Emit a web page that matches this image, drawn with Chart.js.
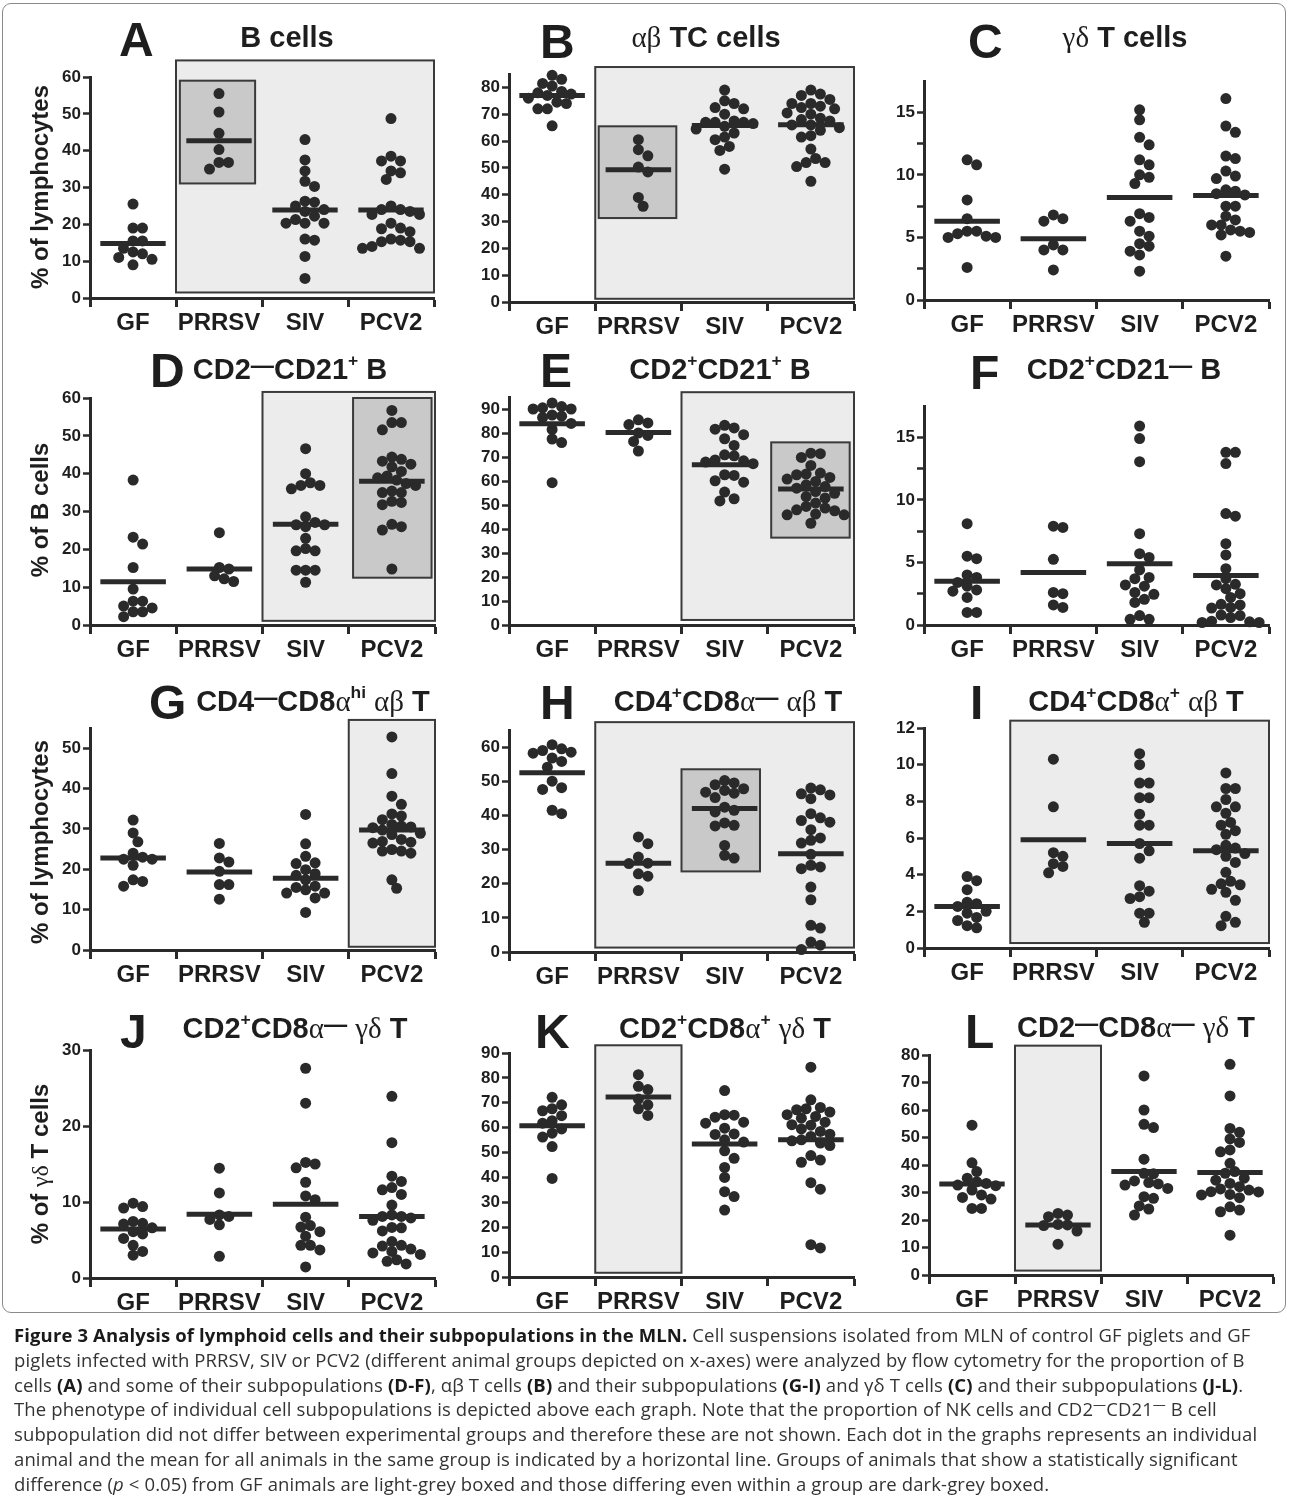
<!DOCTYPE html>
<html>
<head>
<meta charset="utf-8">
<title>Figure 3 - Lymphoid cells in the MLN</title>
<script src="https://cdn.jsdelivr.net/npm/chart.js"></script>
<style>
    body {
        margin: 0;
        background: #fff;
        font-family: "Liberation Sans", Arial, sans-serif;
        color: #1e1e1e;
    }
    #page {
        position: relative;
        width: 1290px;
        height: 1512px;
        overflow: hidden;
    }
    .frame {
        position: absolute;
        left: 2px;
        top: 3px;
        width: 1284px;
        height: 1310px;
        border: 1px solid #8a8a8a;
        border-radius: 9px;
        box-sizing: border-box;
    }
    .chart {
        position: absolute;
    }
    .letter, .title, .ytitle {
        position: absolute;
        font-weight: bold;
        white-space: nowrap;
        line-height: 1;
    }
    .letter {
        font-size: 48px;
        transform: translateY(-50%);
    }
    .title {
        font-size: 29px;
        transform: translate(-50%, -50%);
    }
    .ytitle {
        font-size: 24px;
        transform: translate(-50%, -50%) rotate(-90deg);
    }
    .gr {
        font-family: "Liberation Serif", "DejaVu Serif", serif;
        font-weight: normal;
    }
    .title sup {
        font-size: 60%;
        vertical-align: 0.7em;
    }
    .neg {
        font-size: 80%;
        vertical-align: 0.22em;
    }
    .caption {
        position: absolute;
        left: 14px;
        top: 1323px;
        font-family: "Open Sans", "Noto Sans", sans-serif;
        font-size: 18.5px;
        letter-spacing: 0.12px;
        line-height: 24.8px;
        color: #333;
        white-space: nowrap;
    }
    .caption b {
        color: #1a1a1a;
    }
    .caption sup {
        font-size: 70%;
        line-height: 0;
    }
</style>
</head>
<body>
<div id="page">
    <div class="frame"></div>

    <div class="letter" style="left:119px; top:40px">A</div>
    <div class="title" style="left:287px; top:37px">B cells</div>
    <div class="letter" style="left:540px; top:42px">B</div>
    <div class="title" style="left:706px; top:37px"><span class="gr">αβ</span> TC cells</div>
    <div class="letter" style="left:968px; top:42px">C</div>
    <div class="title" style="left:1125px; top:37px"><span class="gr">γδ</span> T cells</div>

    <div class="letter" style="left:150px; top:371px">D</div>
    <div class="title" style="left:290px; top:368px">CD2<span class="neg">—</span>CD21<sup>+</sup> B</div>
    <div class="letter" style="left:540px; top:371px">E</div>
    <div class="title" style="left:720px; top:368px">CD2<sup>+</sup>CD21<sup>+</sup> B</div>
    <div class="letter" style="left:970px; top:373px">F</div>
    <div class="title" style="left:1124px; top:368px">CD2<sup>+</sup>CD21<span class="neg">—</span> B</div>

    <div class="letter" style="left:149px; top:703px">G</div>
    <div class="title" style="left:313px; top:700px">CD4<span class="neg">—</span>CD8<span class="gr">α</span><sup>hi</sup> <span class="gr">αβ</span> T</div>
    <div class="letter" style="left:540px; top:703px">H</div>
    <div class="title" style="left:728px; top:700px">CD4<sup>+</sup>CD8<span class="gr">α</span><span class="neg">—</span> <span class="gr">αβ</span> T</div>
    <div class="letter" style="left:970px; top:703px">I</div>
    <div class="title" style="left:1136px; top:700px">CD4<sup>+</sup>CD8<span class="gr">α</span><sup>+</sup> <span class="gr">αβ</span> T</div>

    <div class="letter" style="left:120px; top:1032px">J</div>
    <div class="title" style="left:295px; top:1027px">CD2<sup>+</sup>CD8<span class="gr">α</span><span class="neg">—</span> <span class="gr">γδ</span> T</div>
    <div class="letter" style="left:535px; top:1032px">K</div>
    <div class="title" style="left:725px; top:1027px">CD2<sup>+</sup>CD8<span class="gr">α</span><sup>+</sup> <span class="gr">γδ</span> T</div>
    <div class="letter" style="left:965px; top:1032px">L</div>
    <div class="title" style="left:1136px; top:1027px">CD2<span class="neg">—</span>CD8<span class="gr">α</span><span class="neg">—</span> <span class="gr">γδ</span> T</div>

    <div class="ytitle" style="left:40px; top:187px">% of lymphocytes</div>
    <div class="ytitle" style="left:40px; top:510px">% of B cells</div>
    <div class="ytitle" style="left:40px; top:842px">% of lymphocytes</div>
    <div class="ytitle" style="left:40px; top:1164px">% of <span class="gr">γδ</span> T cells</div>

    <div class="caption">
        <div><b>Figure 3 Analysis of lymphoid cells and their subpopulations in the MLN.</b> Cell suspensions isolated from MLN of control GF piglets and GF</div>
        <div>piglets infected with PRRSV, SIV or PCV2 (different animal groups depicted on x-axes) were analyzed by flow cytometry for the proportion of B</div>
        <div>cells <b>(A)</b> and some of their subpopulations <b>(D-F)</b>, αβ T cells <b>(B)</b> and their subpopulations <b>(G-I)</b> and γδ T cells <b>(C)</b> and their subpopulations <b>(J-L)</b>.</div>
        <div>The phenotype of individual cell subpopulations is depicted above each graph. Note that the proportion of NK cells and CD2<sup>—</sup>CD21<sup>—</sup> B cell</div>
        <div>subpopulation did not differ between experimental groups and therefore these are not shown. Each dot in the graphs represents an individual</div>
        <div>animal and the mean for all animals in the same group is indicated by a horizontal line. Groups of animals that show a statistically significant</div>
        <div>difference (<i>p</i> &lt; 0.05) from GF animals are light-grey boxed and those differing even within a group are dark-grey boxed.</div>
    </div>
</div>

<script>
    const groups = ['GF', 'PRRSV', 'SIV', 'PCV2'];

    // values per animal, one list per group (GF, PRRSV, SIV, PCV2), and group means
    const bCells = [
        [25.5, 19, 19, 15.5, 15.5, 13.5, 12.5, 12, 11, 10.5, 9],
        [55.5, 50.5, 44.7, 40.3, 36.8, 36.8, 35],
        [43, 37.5, 34.5, 31.7, 30.3, 26.3, 26, 25, 24, 23.5, 22.2, 21.3, 20.3, 20.3, 20.3, 16, 15.7, 11.3, 5.3],
        [48.7, 38.5, 37.2, 37.2, 34.5, 34, 32.2, 25, 24, 24, 23.5, 22.7, 22.7, 20.3, 19, 18.8, 18, 16, 15.7, 15.3, 15.3, 14, 13.5, 13.5]
    ];
    const bCellsMean = [14.8, 42.7, 23.9, 23.9];

    const abTc = [
        [84.5, 83, 81.5, 80.5, 78.5, 78, 77.5, 77, 76, 74.5, 74, 72, 72, 65.7],
        [60.5, 56.8, 54.5, 50.3, 48.5, 39, 35.7],
        [79, 75, 74, 72.5, 72, 70, 67.5, 67, 67, 67, 66.5, 65.5, 64.5, 63, 61.5, 60.5, 58, 56.5, 49.5],
        [79, 77.5, 77, 75.5, 74, 74, 73, 72.5, 72, 70.5, 70, 68.5, 68, 67.5, 66, 66, 65, 64, 62, 61.5, 57, 53.5, 52, 52, 50.5, 45]
    ];
    const abTcMean = [77, 49.3, 65.8, 66.1];

    const gdT = [
        [11.2, 10.8, 8, 6.5, 5.5, 5.5, 5.3, 5.1, 5, 5, 2.6],
        [6.8, 6.5, 6.3, 4.4, 4, 4, 2.4],
        [15.2, 14.4, 13, 12.4, 11.2, 10.8, 10, 9.8, 9.3, 6.9, 6.6, 6.3, 5.5, 5.1, 4.5, 4.3, 3.9, 3.6, 2.3],
        [16.1, 13.9, 13.4, 11.5, 11.3, 10.3, 9.9, 9.7, 8.8, 8.7, 8.5, 8.4, 7.5, 7.5, 6.7, 6.4, 6, 6, 5.6, 5.5, 5.4, 5.2, 3.5]
    ];
    const gdTMean = [6.3, 4.9, 8.2, 8.35];

    const cd2negCd21pos = [
        [38.3, 23.2, 21.4, 15.2, 9.5, 6.3, 6.3, 5, 4.5, 3.5, 3.5, 2.2],
        [24.4, 15.2, 14.8, 13, 12.2, 11.5],
        [46.6, 40, 37.6, 36.9, 36.9, 36, 28.6, 27.1, 26.5, 26.5, 26, 22.9, 20.2, 19.6, 19.6, 14.5, 14.5, 14.5, 11.3],
        [56.7, 53.5, 53.5, 51.6, 44.4, 43.8, 43.3, 42.5, 41.8, 40.6, 39.4, 38.9, 38.3, 37.4, 36.9, 35.4, 35, 35, 32.7, 32.4, 31.8, 26.6, 26, 25.1, 14.8]
    ];
    const cd2negCd21posMean = [11.4, 14.8, 26.6, 38];

    const cd2posCd21pos = [
        [92.5, 91, 90.5, 90, 90, 87.5, 87, 86.5, 84, 81.5, 77.5, 76, 59.3],
        [85.5, 84.2, 83.5, 80, 79, 76.5, 72.5],
        [83.2, 82.1, 81.6, 79.3, 77.6, 74.8, 70.9, 70.5, 68.8, 68.4, 67.9, 67.2, 62.6, 62.3, 60.1, 59.5, 55.4, 52.6, 51.7],
        [71.6, 71.4, 69.8, 66.5, 63.3, 62.9, 62.6, 61.5, 60.8, 59.8, 58.4, 57.7, 57, 55.6, 54.9, 53.5, 52.9, 50.8, 49.4, 48.7, 48, 47.6, 46.2, 45.9, 45.9, 42.4]
    ];
    const cd2posCd21posMean = [83.9, 80.2, 66.8, 56.7];

    const cd2posCd21neg = [
        [8.1, 5.5, 5.3, 4, 3.8, 3.4, 3.1, 2.8, 2.7, 2.2, 1, 1],
        [7.9, 7.8, 5.25, 2.6, 2.5, 1.6, 1.4],
        [15.9, 14.9, 13.05, 7.3, 5.7, 5.4, 4.4, 3.8, 3.7, 3.2, 3.1, 2.6, 2.45, 2.05, 1.8, 0.75, 0.45, 0.45],
        [13.8, 13.8, 12.9, 8.9, 8.7, 6.5, 5.6, 4.5, 3.7, 3.25, 3.2, 2.9, 2.5, 2.2, 1.65, 1.6, 1.4, 1.35, 0.8, 0.75, 0.6, 0.3, 0.25, 0.2, 0.2]
    ];
    const cd2posCd21negMean = [3.5, 4.2, 4.9, 3.95];

    const cd4negCd8hi = [
        [32.2, 29, 26.8, 24, 23, 22.5, 22.5, 21, 17.4, 17, 15.8],
        [26.4, 22.8, 21.8, 19.5, 16.2, 16.2, 12.6],
        [33.6, 26.3, 23.2, 21.6, 21.4, 19.9, 18.9, 18.5, 17.4, 15.8, 15.5, 14.9, 14.1, 14.1, 12.9, 9.3],
        [52.8, 43.7, 38.1, 36.1, 33.7, 33.2, 32.3, 31.1, 30.7, 30.5, 30.3, 29.7, 28.9, 28.6, 27.4, 26.9, 26.7, 26.5, 24.9, 24.5, 24.5, 24, 17.4, 15.3]
    ];
    const cd4negCd8hiMean = [22.8, 19.3, 17.8, 29.7];

    const cd4posCd8neg = [
        [60.7, 59.5, 59, 58.5, 58.2, 56.8, 55.8, 54.1, 50, 48.1, 47.6, 41.5, 40.5],
        [33.7, 31.7, 27.8, 26, 25.9, 22.9, 22.2, 18],
        [50.2, 49.5, 49, 47.8, 47.3, 46.8, 46.5, 45.2, 42.4, 41.5, 41, 37.8, 37.1, 36.9, 31.2, 28.3, 27.5],
        [48, 47.5, 46.3, 46, 44.9, 40.5, 39.3, 38.5, 38, 35.8, 33.4, 32.7, 31.9, 28.6, 25.4, 24.9, 24.4, 19, 15.3, 7.8, 7, 2.9, 2, 0.7]
    ];
    const cd4posCd8negMean = [52.5, 26, 42, 28.8];

    const cd4posCd8pos = [
        [3.9, 3.67, 3.18, 2.5, 2.42, 2.27, 2, 1.9, 1.67, 1.5, 1.22, 1.1],
        [10.3, 7.7, 5.2, 5, 4.6, 4.45, 4.1],
        [10.6, 10, 9, 9, 8.2, 8.2, 7.3, 6.7, 6.7, 5.7, 5.3, 4.9, 3.4, 3.1, 2.8, 2.7, 1.9, 1.9, 1.4],
        [9.55, 8.7, 8.7, 8.1, 7.7, 7.7, 7.35, 6.85, 6.7, 6.4, 6.2, 5.6, 5.45, 5.36, 5.15, 5, 4.67, 4.13, 3.64, 3.5, 3.45, 3.2, 3.04, 2.6, 1.73, 1.4, 1.22]
    ];
    const cd4posCd8posMean = [2.27, 5.9, 5.7, 5.3];

    const gdCd2posCd8neg = [
        [9.85, 9.4, 9.2, 7.45, 7.2, 7.1, 6.6, 6.1, 5.8, 5.2, 4.3, 3.5, 3],
        [14.45, 11.2, 8.3, 8.1, 7.7, 7, 2.85],
        [27.6, 23, 15.2, 15, 14.5, 12.6, 10.8, 10.3, 8, 6.9, 6.7, 6.1, 5.5, 4.3, 4.3, 3.7, 1.45],
        [23.9, 17.8, 13.4, 12.7, 11.9, 11.6, 11, 9.6, 8.3, 8.1, 8.1, 7.9, 7.6, 6.65, 6.6, 6.2, 4.8, 4.3, 4.2, 3.8, 3.5, 3.3, 3.1, 2.4, 2.2, 1.85]
    ];
    const gdCd2posCd8negMean = [6.45, 8.4, 9.7, 8.1];

    const gdCd2posCd8pos = [
        [72.2, 69.2, 67.6, 66.8, 64.8, 62.8, 61.8, 59.5, 57.8, 56.2, 52.4, 39.6],
        [81.3, 76.6, 75.3, 71.5, 69.2, 67.6, 64.9],
        [74.9, 65.2, 65, 64.2, 62.2, 61.8, 59.8, 57.5, 57.3, 55.1, 54.2, 50.7, 47.7, 44, 40, 34.3, 32.3, 26.9],
        [84.3, 71.2, 68.1, 67.6, 67.2, 66.3, 65.2, 64.5, 63.8, 62.2, 61.2, 61, 59.5, 58.5, 57.4, 56.5, 55.1, 54.7, 53.8, 52.8, 48.8, 47, 46.1, 37.9, 35.3, 13, 11.7]
    ];
    const gdCd2posCd8posMean = [60.8, 72.3, 53.4, 55.1];

    const gdCd2negCd8neg = [
        [54.5, 40.8, 37.6, 35.2, 33.9, 33.3, 32.7, 32.5, 30.9, 29.1, 28.2, 27.6, 24.2, 24.2],
        [22.4, 21.8, 21.2, 18.4, 18.2, 18, 16, 11.2],
        [72.4, 60, 54.8, 53.6, 42.1, 37, 36.8, 34.2, 33.6, 33.1, 32.7, 31.5, 28.5, 27.9, 25.1, 24, 21.8],
        [76.6, 65.1, 53.3, 51.9, 49.5, 48.2, 45.5, 44.8, 40.6, 37.6, 37, 35.2, 34.5, 33.3, 32.1, 31.3, 30.9, 30.3, 30.2, 29.3, 29.1, 28.1, 24.8, 23.6, 23, 14.5]
    ];
    const gdCd2negCd8negMean = [33.1, 18.2, 37.6, 37.3];

    // y axis ticks
    const ticks60 = [0, 10, 20, 30, 40, 50, 60];
    const ticks80 = [0, 10, 20, 30, 40, 50, 60, 70, 80];
    const ticks90 = [0, 10, 20, 30, 40, 50, 60, 70, 80, 90];
    const ticks50 = [0, 10, 20, 30, 40, 50];
    const ticks15 = [0, 2.5, 5, 7.5, 10, 12.5, 15];
    const ticks12 = [0, 2, 4, 6, 8, 10, 12];
    const ticks30 = [0, 10, 20, 30];
    const xTicks = [0, 0.5, 1, 1.5, 2, 2.5, 3, 3.5, 4];

    const ink = '#2a2a2a';
    const light = '#ececec';
    const dark = '#c9c9c9';

    // area = [axis x, top y, right x, zero y] in page pixels; boxes in data units [x0, x1, y0, y1]
    const panels = [
        { values: bCells, means: bCellsMean, yMax: 60, yTicks: ticks60, step: 10, area: [90, 77, 434, 298],
          boxes: [[1, 4, 1.5, 64.5, light], [1.045, 1.92, 31.1, 59, dark]] },
        { values: abTc, means: abTcMean, yMax: 85, yTicks: ticks80, step: 10, area: [509, 74, 854, 302],
          boxes: [[1, 4, 1.2, 87.6, light], [1.04, 1.94, 31.3, 65.5, dark]] },
        { values: gdT, means: gdTMean, yMax: 17.5, yTicks: ticks15, step: 5, area: [924, 81, 1269, 300],
          boxes: [] },
        { values: cd2negCd21pos, means: cd2negCd21posMean, yMax: 60, yTicks: ticks60, step: 10, area: [90, 398, 435, 625],
          boxes: [[2, 4, 1.1, 61.6, light], [3.05, 3.96, 12.5, 60, dark]] },
        { values: cd2posCd21pos, means: cd2posCd21posMean, yMax: 95, yTicks: ticks90, step: 10, area: [509, 397, 854, 625],
          boxes: [[2, 4, 2.1, 97, light], [3.04, 3.95, 36.4, 76.1, dark]] },
        { values: cd2posCd21neg, means: cd2posCd21negMean, yMax: 17.5, yTicks: ticks15, step: 5, area: [924, 406, 1269, 625],
          boxes: [] },
        { values: cd4negCd8hi, means: cd4negCd8hiMean, yMax: 55, yTicks: ticks50, step: 10, area: [90, 728, 435, 950],
          boxes: [[3, 4, 0.8, 57, light]] },
        { values: cd4posCd8neg, means: cd4posCd8negMean, yMax: 65, yTicks: ticks60, step: 10, area: [509, 730, 854, 952],
          boxes: [[1, 4, 1.3, 67.3, light], [2, 2.91, 23.6, 53.5, dark]] },
        { values: cd4posCd8pos, means: cd4posCd8posMean, yMax: 12, yTicks: ticks12, step: 2, area: [924, 728, 1269, 948],
          boxes: [[1, 4, 0.27, 12.4, light]] },
        { values: gdCd2posCd8neg, means: gdCd2posCd8negMean, yMax: 30, yTicks: ticks30, step: 10, area: [90, 1050, 435, 1278],
          boxes: [] },
        { values: gdCd2posCd8pos, means: gdCd2posCd8posMean, yMax: 90, yTicks: ticks90, step: 10, area: [509, 1053, 854, 1277],
          boxes: [[1, 2, 1.7, 93.1, light]] },
        { values: gdCd2negCd8neg, means: gdCd2negCd8negMean, yMax: 80, yTicks: ticks80, step: 10, area: [929, 1055, 1273, 1275],
          boxes: [[1, 2, 1.6, 83.4, light]] }
    ];

    Chart.defaults.font.family = "'Liberation Sans', Arial, sans-serif";

    // spread dots of similar value side by side (pixel based), returns offsets in category units
    function swarm(vals, pxX, pxY) {
        const d = 9.5;
        const order = vals.map((_, i) => i).sort((a, b) => vals[b] - vals[a]);
        const placed = [];
        const out = [];
        order.forEach(i => {
            const py = vals[i] * pxY;
            for (let k = 0; k < 60; k++) {
                const off = (k % 2 ? 1 : -1) * Math.ceil(k / 2) * d / 2;
                if (placed.every(p => Math.hypot(p[0] - off, p[1] - py) >= d)) {
                    placed.push([off, py]);
                    out[i] = off / pxX;
                    break;
                }
            }
        });
        return out;
    }

    const boxPlugin = {
        id: 'groupBoxes',
        beforeDraw(chart) {
            const boxes = chart.options.plugins.groupBoxes.boxes || [];
            const x = chart.scales.x, y = chart.scales.y, c = chart.ctx;
            c.save();
            boxes.forEach(b => {
                const l = x.getPixelForValue(b[0]), r = x.getPixelForValue(b[1]);
                const bt = y.getPixelForValue(b[3]), bb = y.getPixelForValue(b[2]);
                c.fillStyle = b[4];
                c.fillRect(l, bt, r - l, bb - bt);
                c.lineWidth = 2;
                c.strokeStyle = '#3a3a3a';
                c.strokeRect(l, bt, r - l, bb - bt);
            });
            c.restore();
        }
    };

    const page = document.getElementById('page');
    const padL = 10, yW = 50, padT = 24, padR = 6, xH = 46, padB = 4;

    panels.forEach(p => {
        const [ax, top, rx, y0] = p.area;
        const wrap = document.createElement('div');
        wrap.className = 'chart';
        wrap.style.left = (ax - padL - yW) + 'px';
        wrap.style.top = (top - padT) + 'px';
        wrap.style.width = (rx - ax + padL + yW + padR) + 'px';
        wrap.style.height = (y0 - top + padT + xH + padB) + 'px';
        const canvas = document.createElement('canvas');
        wrap.appendChild(canvas);
        page.insertBefore(wrap, page.children[1]);

        const pxX = (rx - ax) / 4;
        const pxY = (y0 - top) / p.yMax;
        const datasets = [];
        p.means.forEach((m, g) => {
            datasets.push({
                data: [{ x: g + 0.12, y: m }, { x: g + 0.88, y: m }],
                showLine: true,
                borderColor: ink,
                borderWidth: 5,
                borderCapStyle: 'butt',
                pointRadius: 0,
                order: 0
            });
        });
        p.values.forEach((vals, g) => {
            const offs = swarm(vals, pxX, pxY);
            datasets.push({
                data: vals.map((v, i) => ({ x: g + 0.5 + offs[i], y: v })),
                pointRadius: 5.5,
                backgroundColor: ink,
                borderWidth: 0,
                order: 1
            });
        });

        new Chart(canvas, {
            type: 'scatter',
            data: { datasets: datasets },
            options: {
                responsive: true,
                maintainAspectRatio: false,
                animation: false,
                events: [],
                clip: false,
                layout: { padding: { left: padL, top: padT, right: padR, bottom: padB } },
                plugins: {
                    legend: { display: false },
                    tooltip: { enabled: false },
                    groupBoxes: { boxes: p.boxes }
                },
                scales: {
                    x: {
                        type: 'linear',
                        min: 0,
                        max: 4,
                        afterBuildTicks: s => { s.ticks = xTicks.map(v => ({ value: v })); },
                        afterFit: s => { s.height = xH; },
                        ticks: {
                            autoSkip: false,
                            maxRotation: 0,
                            padding: 2,
                            color: '#1e1e1e',
                            font: { size: 24, weight: 'bold' },
                            callback: v => (v % 1 ? groups[Math.floor(v)] : '')
                        },
                        grid: {
                            drawOnChartArea: false,
                            tickLength: 9,
                            tickWidth: 3,
                            tickColor: c => (c.tick && c.tick.value % 1 ? 'rgba(0,0,0,0)' : ink)
                        },
                        border: { color: ink, width: 3 }
                    },
                    y: {
                        type: 'linear',
                        min: 0,
                        max: p.yMax,
                        afterBuildTicks: s => { s.ticks = p.yTicks.map(v => ({ value: v })); },
                        afterFit: s => { s.width = yW; },
                        ticks: {
                            padding: 2,
                            color: '#1e1e1e',
                            font: { size: 17, weight: 'bold' },
                            callback: v => (v % p.step === 0 ? v : '')
                        },
                        grid: {
                            drawOnChartArea: false,
                            tickLength: 7,
                            tickWidth: 2.5,
                            tickColor: ink
                        },
                        border: { color: ink, width: 3 }
                    }
                }
            },
            plugins: [boxPlugin]
        });
    });
</script>
</body>
</html>
